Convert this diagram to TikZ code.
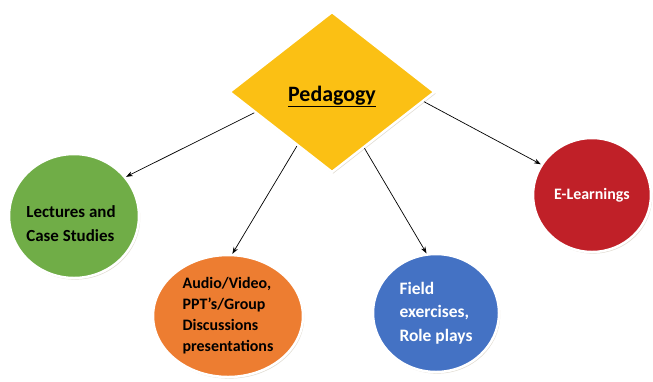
\documentclass[tikz,border=0pt]{standalone}
\usepackage{fontspec}
\setmainfont{Carlito}
\usetikzlibrary{positioning,shapes.geometric,arrows.meta,shadows}
\definecolor{pgYellow}{RGB}{251,192,20}
\definecolor{pgGreen}{RGB}{112,173,71}
\definecolor{pgOrange}{RGB}{237,125,49}
\definecolor{pgBlue}{RGB}{68,114,196}
\definecolor{pgRed}{RGB}{192,32,40}
\definecolor{pgShadow}{RGB}{196,186,166}

\begin{document}
\begin{tikzpicture}[
  x=1bp, y=-1bp,
  font=\bfseries\fontsize{16}{24}\selectfont,
  bubble/.style={ellipse, draw=white, line width=2.5bp, inner sep=0pt, align=left,
    drop shadow={shadow xshift=1.2bp, shadow yshift=-1.6bp, fill=pgShadow}},
  arr/.style={-{Stealth[length=2.4mm, width=1.7mm]}, line width=0.7bp},
]
\useasboundingbox (0,0) rectangle (653,381);
% centre
\node[diamond, aspect=1.28, minimum width=206bp, minimum height=161bp, inner sep=0pt,
  fill=pgYellow, draw=white, line width=2.5bp, text height=25bp, text depth=6bp,
  drop shadow={shadow xshift=1.2bp, shadow yshift=-1.6bp, fill=pgShadow},
  font=\bfseries\fontsize{22}{24}\selectfont] (ped) at (332,92) {\underline{Pedagogy}};
% bubbles
\node[bubble, fill=pgGreen, minimum width=130bp, minimum height=124bp] (lect) at (74,216) {};
\node[align=left, font=\bfseries\fontsize{17}{24}\selectfont] (lecttxt) at (71,224)
  {Lectures and\\Case Studies};
\node[bubble, fill=pgOrange, minimum width=150bp, minimum height=122bp,
  font=\bfseries\fontsize{16}{21}\selectfont] (audio) at (228,316)
  {Audio/Video,\\PPT’s/Group\\Discussions\\presentations};
\node[bubble, fill=pgBlue, text=white, minimum width=126bp, minimum height=118bp,
  font=\bfseries\fontsize{17.5}{23.5}\selectfont] (field) at (436,313)
  {Field\\exercises,\\Role plays};
\node[bubble, fill=pgRed, text=white, minimum width=118bp, minimum height=114bp] (elearn) at (592,195)
  {E-Learnings};
% arrows
\draw[arr] (ped.195) -- (lect.37);
\draw[arr] (ped.237) -- (audio.86);
\draw[arr] (ped.300) -- (field.99);
\draw[arr] (ped.354) -- (elearn.149);
\end{tikzpicture}
\end{document}
